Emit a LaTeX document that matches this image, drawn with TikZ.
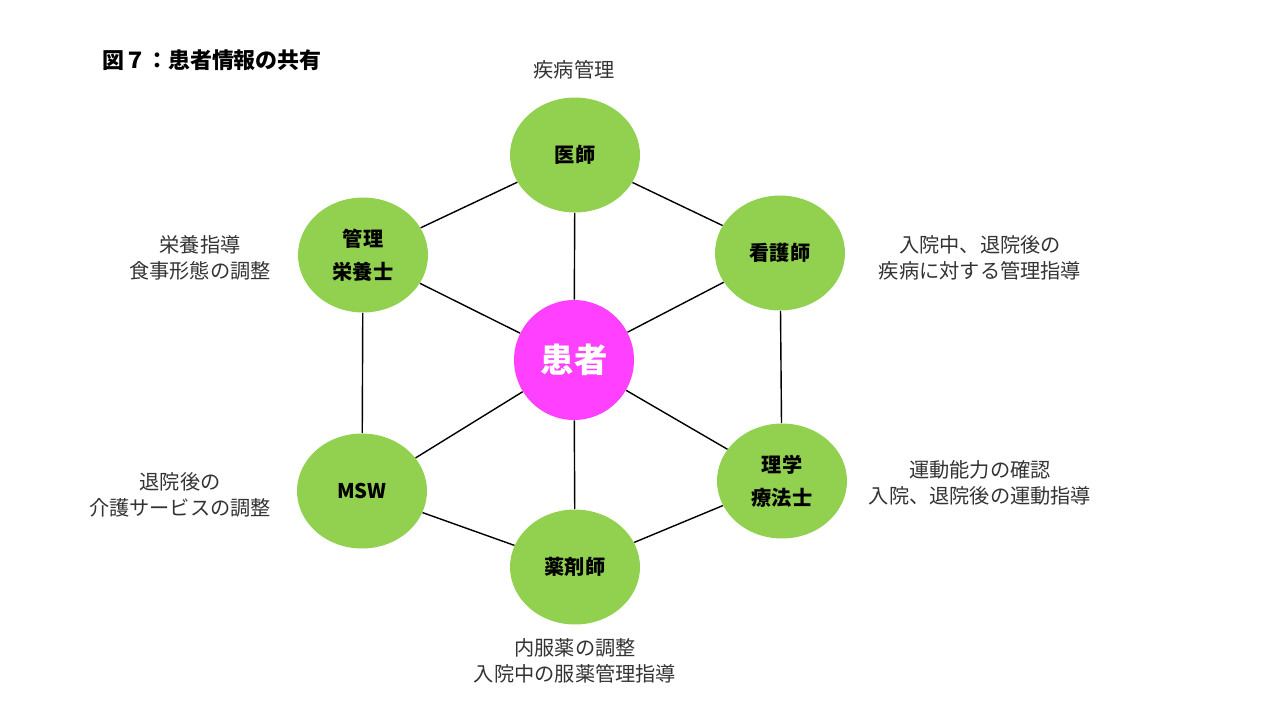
\documentclass[tikz,border=0pt]{standalone}
\usepackage{fontspec}
\setmainfont{Noto Sans CJK JP}
\usetikzlibrary{shapes.geometric,positioning}
\definecolor{leaf}{HTML}{92D050}
\definecolor{pink}{HTML}{FF40FF}

\begin{document}
\begin{tikzpicture}[x=0.02cm,y=-0.02cm,
	% Styles
	staff/.style={ellipse, fill=leaf, minimum width=2.6cm, minimum height=2.3cm, inner sep=0pt, align=center, font=\fontsize{11.5}{19}\selectfont\bfseries},
	patient/.style={circle, fill=pink, minimum size=2.4cm, inner sep=0pt, text=white, font=\fontsize{19}{22}\selectfont\bfseries},
	note/.style={align=center, font=\fontsize{11.5}{14.5}\selectfont, text=black!80},
	link/.style={thick, black}
	]
	\useasboundingbox (0,0) rectangle (1280,720);

	% Title
	\node at (96,60) (title) [anchor=west, font=\fontsize{12.5}{15}\selectfont\bfseries] {図７：患者情報の共有};

	% Nodes
	\node at (574,360)	(kanja)	[patient] {患者};
	\node at (575,155)	(ishi)	[staff] {医師};
	\node at (780,253)	(kango)	[staff] {看護師};
	\node at (782,481)	(rigaku)	[staff] {理学\\療法士};
	\node at (575,567)	(yaku)	[staff] {薬剤師};
	\node at (362,491)	(msw)	[staff] {MSW};
	\node at (363,255)	(eiyo)	[staff] {管理\\栄養士};

	% Notes
	\node at (574,70)	(nIshi)	[note] {疾病管理};
	\node at (980,258)	(nKango)	[note] {入院中、退院後の\\疾病に対する管理指導};
	\node at (980,483)	(nRigaku)	[note] {運動能力の確認\\入院、退院後の運動指導};
	\node at (575,661)	(nYaku)	[note] {内服薬の調整\\入院中の服薬管理指導};
	\node at (180,495)	(nMsw)	[note] {退院後の\\介護サービスの調整};
	\node at (200,258)	(nEiyo)	[note] {栄養指導\\食事形態の調整};

	% Connections
	\foreach \a/\b in {ishi/kango, kango/rigaku, rigaku/yaku, yaku/msw, msw/eiyo, eiyo/ishi}
		\draw[link] (\a) -- (\b);
	\foreach \s in {ishi, kango, rigaku, yaku, msw, eiyo}
		\draw[link] (kanja) -- (\s);

\end{tikzpicture}
\end{document}
